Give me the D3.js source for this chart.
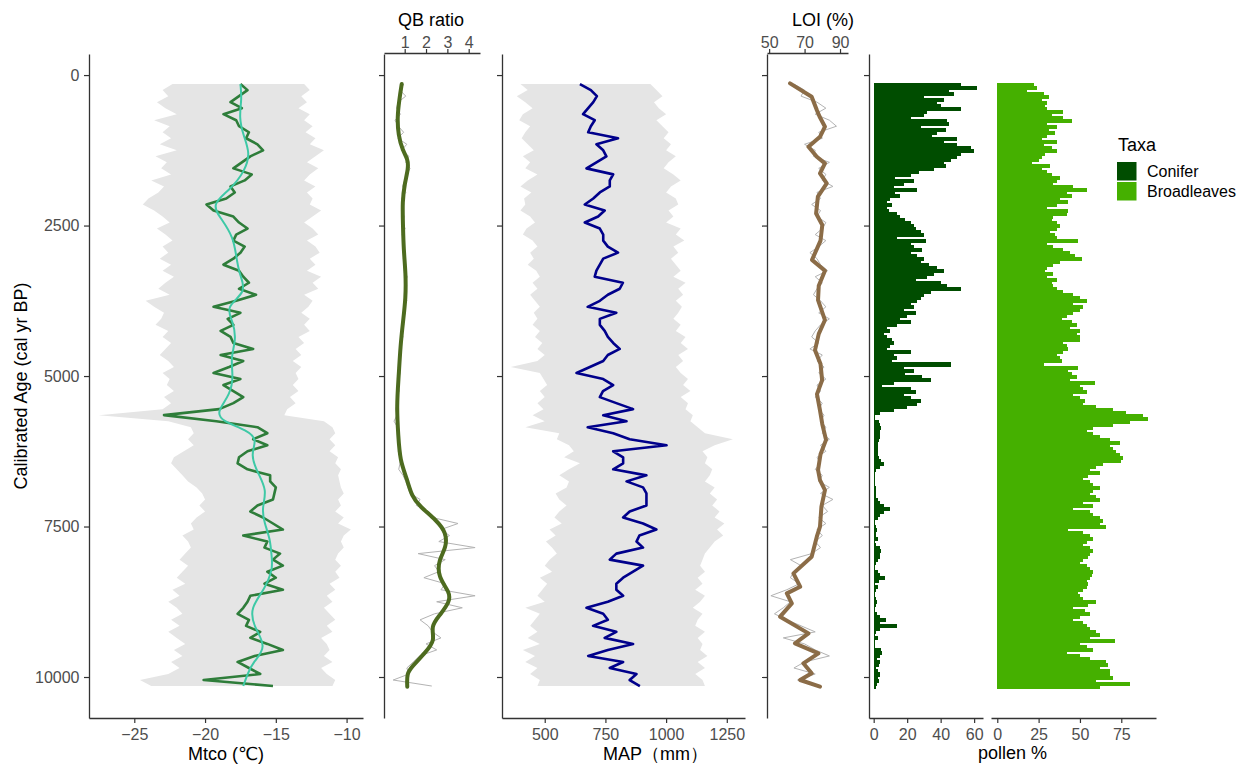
<!DOCTYPE html>
<html><head><meta charset="utf-8">
<script src="https://cdn.jsdelivr.net/npm/d3@7"></script>
<style>
body{margin:0;background:#fff}
svg{display:block}
text{font-family:"Liberation Sans",Arial,"DejaVu Sans",sans-serif}
</style>
</head><body>
<svg id="c" width="1244" height="767"></svg>
<script>
// ---------------- DATA ----------------
const ageTicks = [0, 2500, 5000, 7500, 10000];
const mtcoTicks = [-25, -20, -15, -10];
const qbTicks = [1, 2, 3, 4];
const mapTicks = [500, 750, 1000, 1250];
const loiTicks = [50, 70, 90];
const coniferTicks = [0, 20, 40, 60];
const broadTicks = [0, 25, 50, 75];
const taxa = ["Conifer", "Broadleaves"];

// sample ages (cal yr BP), 100-yr resolution
const ages = [150,250,350,450,550,650,750,850,950,1050,
1150,1250,1350,1450,1550,1650,1750,1850,1950,2050,
2150,2250,2350,2450,2550,2650,2750,2850,2950,3050,
3150,3250,3350,3450,3550,3650,3750,3850,3950,4050,
4150,4250,4350,4450,4550,4650,4750,4850,4950,5050,
5150,5250,5350,5450,5550,5650,5750,5850,5950,6050,
6150,6250,6350,6450,6550,6650,6750,6850,6950,7050,
7150,7250,7350,7450,7550,7650,7750,7850,7950,8050,
8150,8250,8350,8450,8550,8650,8750,8850,8950,9050,
9150,9250,9350,9450,9550,9650,9750,9850,9950,10050,10150];

const mtco = [-17.5,-17.0,-17.6,-18.2,-17.4,-18.7,-17.8,-17.6,-16.9,-17.1,
-16.3,-15.9,-16.8,-17.4,-18.0,-16.7,-17.2,-18.2,-17.9,-18.5,
-19.9,-19.4,-18.0,-17.6,-17.0,-17.8,-18.0,-17.2,-17.5,-18.0,
-18.7,-17.6,-17.3,-16.9,-17.6,-16.4,-17.8,-19.4,-17.5,-18.4,
-18.0,-18.9,-18.2,-18.0,-16.6,-18.9,-17.3,-18.3,-19.4,-17.5,
-18.7,-18.0,-17.3,-18.0,-19.0,-22.9,-19.2,-16.3,-15.6,-16.6,
-15.6,-17.0,-17.6,-17.7,-17.0,-15.4,-15.4,-15.0,-15.1,-15.2,
-16.3,-16.8,-15.9,-15.2,-14.5,-17.3,-15.6,-15.8,-14.7,-15.2,
-14.5,-15.6,-15.0,-15.8,-14.5,-16.8,-17.0,-17.3,-17.7,-16.9,
-17.1,-16.1,-16.8,-15.6,-14.5,-16.5,-17.7,-16.9,-16.1,-20.1,-15.2];
const mtcoLow = [-22.3,-23.0,-22.6,-23.4,-22.8,-22.0,-23.6,-22.5,-23.0,-22.4,
-23.2,-22.0,-23.5,-22.7,-23.1,-22.4,-23.8,-22.9,-23.3,-24.0,
-24.4,-23.6,-23.0,-22.5,-23.4,-22.8,-22.3,-23.0,-22.6,-23.2,
-22.4,-23.0,-22.2,-22.8,-23.3,-22.5,-24.2,-23.6,-22.9,-23.1,
-23.5,-22.6,-23.0,-22.4,-22.8,-23.2,-22.6,-22.2,-23.0,-22.5,
-22.7,-22.2,-22.9,-22.4,-23.0,-27.5,-22.6,-21.0,-20.8,-21.2,
-20.8,-21.5,-22.2,-22.4,-22.0,-21.6,-21.2,-20.6,-20.2,-20.0,
-20.4,-20.0,-20.6,-21.0,-20.8,-21.6,-21.2,-21.0,-21.4,-21.8,
-21.2,-21.6,-22.0,-21.4,-22.3,-21.8,-22.6,-22.0,-21.6,-22.4,
-21.8,-22.6,-22.0,-21.4,-22.2,-21.6,-22.4,-21.8,-22.6,-24.6,-23.8];
const mtcoHigh = [-13.0,-12.6,-13.2,-12.8,-13.4,-12.6,-13.0,-12.4,-12.9,-12.2,
-12.6,-11.6,-12.2,-12.8,-12.0,-12.6,-13.0,-12.2,-12.8,-12.4,
-12.6,-11.8,-12.4,-13.0,-12.4,-12.0,-12.8,-12.2,-11.9,-12.6,
-12.2,-12.8,-11.8,-12.4,-12.0,-13.0,-12.4,-12.7,-13.2,-12.6,
-13.0,-12.6,-13.4,-13.0,-13.6,-13.2,-13.8,-13.2,-13.6,-13.4,
-13.8,-13.4,-14.0,-13.6,-14.2,-14.4,-11.6,-11.0,-10.8,-11.2,
-10.8,-11.2,-10.6,-10.8,-10.4,-10.6,-10.5,-10.4,-10.2,-10.6,
-10.4,-10.8,-10.2,-10.6,-9.7,-10.2,-10.4,-10.2,-10.6,-10.8,
-10.4,-10.8,-10.5,-11.2,-10.8,-11.4,-11.0,-11.6,-11.2,-10.8,
-11.4,-11.0,-11.8,-11.4,-11.2,-11.6,-11.0,-11.8,-11.4,-10.8,-11.0];

const mtcoSmoothAges = [150,400,700,1000,1300,1600,1900,2150,2400,2700,3000,3300,3600,3850,4100,4400,4700,5000,5300,5600,5750,5900,6060,6300,6600,6900,7200,7450,7700,8000,8200,8550,8850,9150,9500,9750,9950,10150];
const mtcoSmooth = [-17.5,-17.4,-17.6,-17.3,-16.8,-17.2,-18.2,-19.6,-18.8,-18.0,-17.8,-17.6,-17.0,-18.6,-18.0,-17.8,-18.2,-18.0,-18.2,-19.2,-18.8,-17.0,-16.3,-16.8,-16.3,-15.6,-16.0,-15.8,-15.4,-15.3,-15.2,-15.8,-16.8,-16.6,-15.6,-16.6,-17.0,-17.3];

const qbRaw = [0.95,0.78,1.05,0.70,0.62,0.80,0.55,0.70,0.95,0.68,
1.10,0.85,1.20,1.05,1.25,1.10,1.00,0.90,1.05,0.85,
0.92,0.85,0.98,0.90,1.02,0.88,0.96,0.92,1.00,0.94,
1.05,0.98,1.12,1.02,1.08,1.00,1.10,0.96,1.02,0.90,
0.95,0.85,0.92,0.78,0.85,0.76,0.80,0.70,0.78,0.72,
0.68,0.74,0.62,0.66,0.58,0.64,0.50,0.66,0.72,0.68,
0.75,0.70,0.80,0.78,0.72,0.92,1.05,1.15,1.25,1.72,
1.55,2.10,2.30,3.50,2.70,3.10,2.60,4.30,1.63,2.90,
2.40,2.60,1.90,2.90,2.70,4.30,2.50,3.70,2.40,1.72,
2.10,2.30,2.70,2.00,2.50,1.70,1.40,1.10,1.20,0.46,2.27];
const qbSmoothAges = [150,400,700,1000,1250,1400,1550,1800,2100,2500,2900,3300,3700,4100,4500,5000,5500,6000,6400,6700,7000,7170,7400,7600,7850,8050,8330,8600,8750,8950,9160,9390,9600,9830,9940,10160];
const qbSmooth = [0.86,0.75,0.65,0.70,0.90,1.15,1.17,1.00,0.89,0.92,0.95,1.05,1.05,0.92,0.80,0.72,0.62,0.70,0.78,1.10,1.33,1.72,2.50,2.95,2.95,2.60,2.55,3.13,3.10,2.70,2.20,2.44,1.95,1.33,1.10,1.12];

const mapVals = [645,690,715,700,679,658,706,690,679,802,
713,741,754,713,672,782,768,768,727,700,
665,747,720,665,727,741,741,760,802,741,
727,713,706,822,809,760,727,677,795,727,
727,747,760,782,809,760,741,686,631,741,
782,740,727,795,864,741,837,677,782,850,
1002,782,823,823,782,919,837,905,919,919,
919,850,823,905,960,890,878,905,795,768,
905,864,823,795,795,823,760,672,741,760,
699,795,747,864,760,679,823,768,878,850,892];
const mapLow = [400,430,385,420,450,410,395,440,420,405,
430,455,410,440,420,470,430,400,445,415,
420,400,440,460,425,410,450,470,440,455,
430,465,480,450,470,440,460,480,455,470,
450,480,460,490,470,500,470,360,480,495,
510,480,500,470,495,450,500,420,560,550,
600,620,580,645,600,560,600,590,545,560,
590,560,540,570,520,545,505,530,550,520,
500,530,480,510,490,470,500,420,480,460,
440,470,430,480,410,460,420,470,440,480,470];
const mapHigh = [935,960,985,950,970,1000,960,985,1010,990,
1020,1000,1040,1010,990,1030,1060,1020,1000,1040,
1050,1010,1030,1000,1060,1040,1075,1030,1050,1020,
1040,1060,1030,1080,1050,1070,1040,1065,1050,1030,
1060,1040,1080,1060,1090,1050,1070,1040,1060,1090,
1070,1100,1060,1090,1080,1110,1100,1130,1160,1275,
1200,1150,1170,1160,1190,1180,1160,1200,1180,1210,
1190,1220,1200,1240,1210,1235,1200,1180,1160,1150,
1140,1160,1130,1150,1120,1160,1140,1110,1150,1130,
1120,1160,1130,1150,1140,1170,1130,1160,1120,1150,1160];

const loiRaw = [64,70,68,77,82,76,84,88,78,80,
70,76,75,84,78,82,80,86,77,79,
74,79,77,82,80,76,82,78,73,77,
79,83,76,80,77,75,79,82,78,84,
79,76,74,78,73,80,77,81,78,82,
77,79,76,80,78,81,79,82,80,84,
79,82,77,79,76,80,78,84,79,86,
80,83,78,82,77,80,76,79,74,62,
68,64,62,67,60,51,62,58,53,60,
68,76,58,70,76,84,70,64,76,66,76];
const loiSmoothAges = [138,360,581,692,858,1025,1190,1357,1467,1633,1800,2021,2300,2490,2750,3070,3250,3500,3740,4070,4300,4570,4800,5070,5300,5570,5800,6060,6300,6560,6728,6894,7171,7503,7669,8001,8278,8500,8610,8777,8998,9275,9441,9607,9773,9939,10050,10161];
const loiSmooth = [61.8,74,76.9,78.5,81.5,78.7,72.2,76.9,81.5,78.7,82.5,77.5,76.5,80,79,74.2,81.5,78,77.6,81.5,78,75.9,79,79.9,77,78.7,80,82.1,79,77.6,78.7,81.5,79.5,78.7,76.9,74,63.7,67.5,60,62.8,56.2,72.2,64.6,77.8,69.3,74,67.5,78.7];

// pollen samples, 50-yr resolution
const pollenAges = [150,200,250,300,350,400,450,500,550,600,
650,700,750,800,850,900,950,1000,1050,1100,
1150,1200,1250,1300,1350,1400,1450,1500,1550,1600,
1650,1700,1750,1800,1850,1900,1950,2000,2050,2100,
2150,2200,2250,2300,2350,2400,2450,2500,2550,2600,
2650,2700,2750,2800,2850,2900,2950,3000,3050,3100,
3150,3200,3250,3300,3350,3400,3450,3500,3550,3600,
3650,3700,3750,3800,3850,3900,3950,4000,4050,4100,
4150,4200,4250,4300,4350,4400,4450,4500,4550,4600,
4650,4700,4750,4800,4850,4900,4950,5000,5050,5100,
5150,5200,5250,5300,5350,5400,5450,5500,5550,5600,
5650,5700,5750,5800,5850,5900,5950,6000,6050,6100,
6150,6200,6250,6300,6350,6400,6450,6500,6550,6600,
6650,6700,6750,6800,6850,6900,6950,7000,7050,7100,
7150,7200,7250,7300,7350,7400,7450,7500,7550,7600,
7650,7700,7750,7800,7850,7900,7950,8000,8050,8100,
8150,8200,8250,8300,8350,8400,8450,8500,8550,8600,
8650,8700,8750,8800,8850,8900,8950,9000,9050,9100,
9150,9200,9250,9300,9350,9400,9450,9500,9550,9600,
9650,9700,9750,9800,9850,9900,9950,10000,10050,10100,10150];
const conifer = [52,62,45,48,30,42,38,40,52,32,
30,22,44,45,28,43,38,35,50,42,
50,58,60,52,50,46,42,43,36,27,
22,13,24,18,12,26,13,16,10,8,
11,8,9,14,16,19,22,24,25,28,
30,14,31,22,24,29,22,26,30,28,
33,38,42,36,32,25,40,44,52,34,
30,28,26,22,24,18,25,20,16,22,
14,8,10,6,8,11,12,10,8,22,
12,14,11,46,18,24,19,29,34,12,
5,22,25,18,22,28,26,20,12,4,
1,0.5,3,4,4.5,3.6,3.5,3.6,3,2.6,
2.6,2.8,2.6,2.6,3,4.6,6,3.6,1.6,1.0,
0.8,0.6,0.8,1.0,1.6,1.6,1.6,1.5,2.6,4,
6,9.6,6,3.6,2.6,1.0,0.6,1.6,2,1.6,
1.6,2.6,1,1.6,3.6,4.6,3.6,3.6,2.6,1.6,
1,0.6,2.6,4,6.6,3,0.6,2.6,1.6,1,
0.6,1.6,2,1.6,0.6,1,2,3.6,7.6,4,
14,3.6,1.6,1,2.6,0.6,1,0.6,4.6,5,
3.6,2,3.6,3,1.6,2.6,3.6,2.6,3,2,1.6];
const broadleaves = [22,24,18,28,31,27,30,29,30,40,
33,40,45,30,36,31,35,30,27,36,
28,33,36,29,27,25,21,32,27,30,
33,38,36,34,46,54,42,45,38,43,
36,30,43,42,34,33,36,38,36,32,
35,36,49,30,34,40,44,47,51,38,
34,30,29,34,30,36,33,34,36,40,
46,50,54,46,52,50,46,42,39,45,
48,44,50,48,50,50,40,42,43,40,
36,38,39,28,49,43,45,48,44,59,
50,52,54,46,50,53,52,60,70,78,
88,91,80,70,58,54,58,62,68,74,
68,70,72,74,76,75,64,60,56,62,
55,52,56,58,62,58,56,60,62,52,
58,46,56,58,62,64,62,66,43,52,
56,58,54,52,56,58,56,55,52,50,
54,56,58,57,56,54,55,54,52,49,
50,52,60,55,46,53,56,50,46,52,
54,56,60,62,56,71,50,54,58,42,
50,56,66,67,62,68,68,70,60,80,62];

// ---------------- CHART ----------------
const svg = d3.select("#c");
const AX = "#333333", TXT = "#4d4d4d", FS = 16;

const y = d3.scaleLinear().domain([-350, 10681]).range([54, 718]);
const xM = d3.scaleLinear().domain([-28.2, -8.84]).range([89, 363]);
const xQ = d3.scaleLinear().domain([0.03, 4.53]).range([384, 480]);
const xP = d3.scaleLinear().domain([324, 1325]).range([502, 745]);
const xL = d3.scaleLinear().domain([48.8, 94.5]).range([767, 848]);
const xC = d3.scaleLinear().domain([-2.8, 65.3]).range([869, 983]);
const xB = d3.scaleLinear().domain([-3.8, 96]).range([991, 1156]);

function styleAxis(g){
  g.select(".domain").attr("stroke", AX).attr("stroke-width", 1.3);
  g.selectAll(".tick line").attr("stroke", AX).attr("stroke-width", 1.2);
  g.selectAll(".tick text").attr("fill", TXT).attr("font-size", FS)
    .attr("font-family", '"Liberation Sans",Arial,sans-serif');
}
function leftAxis(x0, labels){
  const a = d3.axisLeft(y).tickValues(ageTicks).tickSize(5).tickSizeOuter(0).tickPadding(4.5)
    .tickFormat(labels ? d3.format("d") : "");
  svg.append("g").attr("transform", `translate(${x0},0)`).call(a).call(styleAxis);
}
function bottomAxis(sc, ticks){
  svg.append("g").attr("transform", "translate(0,718)")
    .call(d3.axisBottom(sc).tickValues(ticks).tickSize(5).tickSizeOuter(0).tickPadding(5.5).tickFormat(d3.format("d")))
    .call(styleAxis);
}
function topAxis(sc, ticks){
  svg.append("g").attr("transform", "translate(0,53)")
    .call(d3.axisTop(sc).tickValues(ticks).tickSize(4).tickSizeOuter(0).tickPadding(1.5).tickFormat(d3.format("d")))
    .call(styleAxis);
}
function title(txt, x, yy, anchor, size){
  svg.append("text").attr("x", x).attr("y", yy).attr("text-anchor", anchor || "middle")
    .attr("font-size", size || 18).attr("fill", "#000").text(txt);
}
const lineV = (xs) => d3.line().x(d => xs(d[1])).y(d => y(d[0]));
const zip = (a, b) => a.map((v, i) => [v, b[i]]);

// Panel 1: Mtco
svg.append("path")
  .datum(ages.map((a, i) => [a, mtcoLow[i], mtcoHigh[i]]))
  .attr("fill", "#e5e5e5")
  .attr("d", d3.area().y(d => y(d[0])).x0(d => xM(d[1])).x1(d => xM(d[2])));
svg.append("path").datum(zip(ages, mtco)).attr("fill", "none")
  .attr("stroke", "#2e7d3a").attr("stroke-width", 2.6).attr("stroke-linejoin", "round")
  .attr("d", lineV(xM));
svg.append("path").datum(zip(mtcoSmoothAges, mtcoSmooth)).attr("fill", "none")
  .attr("stroke", "#3ec9a6").attr("stroke-width", 2)
  .attr("d", lineV(xM).curve(d3.curveBasis));
leftAxis(89, true);
bottomAxis(xM, mtcoTicks);
title("Mtco (\u2103)", 226, 760);
svg.append("text").attr("transform", "translate(27,386) rotate(-90)")
  .attr("text-anchor", "middle").attr("font-size", 18).attr("fill", "#000")
  .text("Calibrated Age (cal yr BP)");

// Panel 2: QB ratio
svg.append("path").datum(zip(ages, qbRaw)).attr("fill", "none")
  .attr("stroke", "#b3b3b3").attr("stroke-width", 1).attr("d", lineV(xQ));
svg.append("path").datum(zip(qbSmoothAges, qbSmooth)).attr("fill", "none")
  .attr("stroke", "#4d6b1f").attr("stroke-width", 4).attr("stroke-linecap", "round")
  .attr("d", lineV(xQ).curve(d3.curveBasis));
leftAxis(384, false);
topAxis(xQ, qbTicks);
title("QB ratio", 431, 26);

// Panel 3: MAP
svg.append("path")
  .datum(ages.map((a, i) => [a, mapLow[i], mapHigh[i]]))
  .attr("fill", "#e5e5e5")
  .attr("d", d3.area().y(d => y(d[0])).x0(d => xP(d[1])).x1(d => xP(d[2])));
svg.append("path").datum(zip(ages, mapVals)).attr("fill", "none")
  .attr("stroke", "#00008b").attr("stroke-width", 2.6).attr("stroke-linejoin", "round")
  .attr("d", lineV(xP));
leftAxis(502, false);
bottomAxis(xP, mapTicks);
title("MAP\uFF08mm\uFF09", 603, 760, "start");

// Panel 4: LOI
svg.append("path").datum(zip(ages, loiRaw)).attr("fill", "none")
  .attr("stroke", "#b3b3b3").attr("stroke-width", 1).attr("d", lineV(xL));
svg.append("path").datum(zip(loiSmoothAges, loiSmooth)).attr("fill", "none")
  .attr("stroke", "#8b6c47").attr("stroke-width", 4).attr("stroke-linejoin", "round").attr("stroke-linecap", "round")
  .attr("d", lineV(xL));
leftAxis(767, false);
topAxis(xL, loiTicks);
title("LOI (%)", 792, 26, "start");

// Panel 5: pollen
const colC = "#004d00", colB = "#45b000";
const half = 25;
function bars(xs, vals, col){
  svg.append("g").attr("shape-rendering", "crispEdges").selectAll("rect").data(zip(pollenAges, vals)).join("rect")
    .attr("x", xs(0)).attr("y", d => y(d[0] - half))
    .attr("width", d => xs(d[1]) - xs(0)).attr("height", d => y(d[0] + half) - y(d[0] - half) + 1)
    .attr("fill", col);
}
bars(xC, conifer, colC);
bars(xB, broadleaves, colB);
leftAxis(869, false);
bottomAxis(xC, coniferTicks);
bottomAxis(xB, broadTicks);
title("pollen %", 1012.5, 759);

// Legend
svg.append("text").attr("x", 1118).attr("y", 151).attr("font-size", 18).attr("fill", "#000").text("Taxa");
const lg = svg.append("g").selectAll("g").data(taxa).join("g")
  .attr("transform", (d, i) => `translate(1117,${162 + i * 20})`);
lg.append("rect").attr("width", 19.5).attr("height", 18.5)
  .attr("fill", (d, i) => i === 0 ? colC : colB);
lg.append("text").attr("x", 30).attr("y", 15).attr("font-size", 16).attr("fill", "#000").text(d => d);
</script>
</body></html>
